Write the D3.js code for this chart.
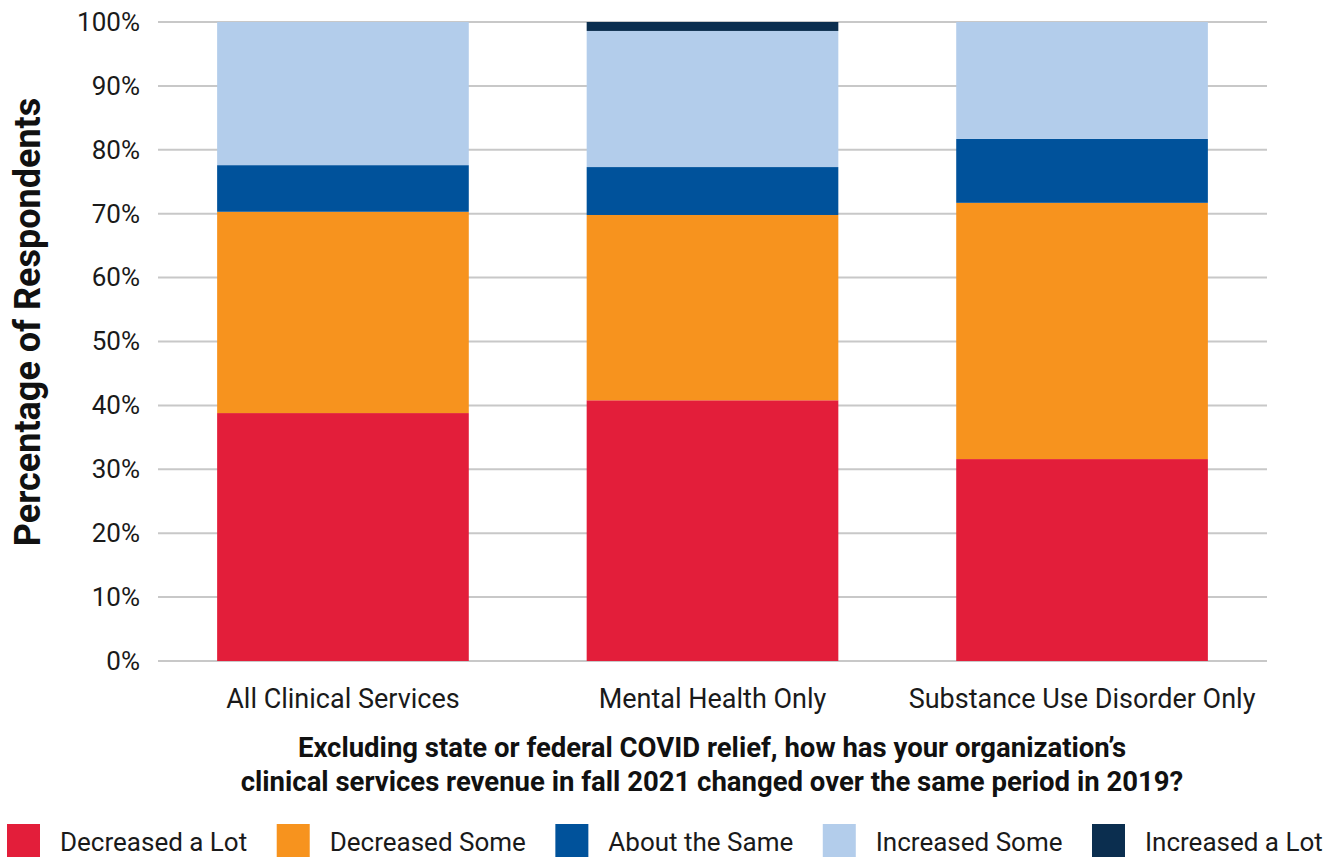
<!DOCTYPE html>
<html><head><meta charset="utf-8">
<script src="https://cdn.jsdelivr.net/npm/d3@7"></script>
<style>body{margin:0;background:#fff;} svg{display:block;} text{font-family:Roboto,"Open Sans",sans-serif;}</style>
</head><body><svg id="c" width="1338" height="859"></svg>
<script>
const categories = ["All Clinical Services","Mental Health Only","Substance Use Disorder Only"];
const seriesNames = ["Decreased a Lot","Decreased Some","About the Same","Increased Some","Increased a Lot"];
const decreasedALot = [38.8, 40.8, 31.6];
const decreasedSome = [31.5, 29.0, 40.1];
const aboutTheSame = [7.3, 7.5, 10.0];
const increasedSome = [22.4, 21.3, 18.3];
const increasedALot = [0, 1.4, 0];
const yTicks = [0,10,20,30,40,50,60,70,80,90,100];
const colors = ["#E31E3A","#F7931E","#00529B","#B3CDEB","#0B2E4F"];

(function(){
const seriesValues = [decreasedALot, decreasedSome, aboutTheSame, increasedSome, increasedALot];
const rows = categories.map((c,i)=>{const r={cat:c}; seriesNames.forEach((s,j)=>r[s]=seriesValues[j][i]); return r;});
const stack = d3.stack().keys(seriesNames)(rows);

const svg = d3.select("#c");
const mLeft=158, mRight=1267, mTop=22, mBottom=661;
const x = d3.scaleBand().domain(categories).range([mLeft,mRight]).paddingInner(0.319).paddingOuter(0.16);
const y = d3.scaleLinear().domain([0,100]).range([mBottom,mTop]);

svg.append("g").selectAll("line").data(yTicks).join("line")
  .attr("x1",mLeft).attr("x2",mRight).attr("y1",d=>y(d)).attr("y2",d=>y(d))
  .attr("stroke","#c8c8c8").attr("stroke-width",2);

const yAxis = svg.append("g").attr("transform",`translate(${mLeft},0)`)
  .call(d3.axisLeft(y).tickValues(yTicks).tickFormat(d=>d+"%").tickSize(0).tickPadding(18));
yAxis.select(".domain").remove();
yAxis.selectAll("text").attr("font-size",26).attr("fill","#1a1a1a").style("font-family","Roboto,sans-serif");

svg.append("g").selectAll("g").data(stack).join("g").attr("fill",(d,i)=>colors[i])
  .selectAll("rect").data(d=>d).join("rect")
  .attr("x",d=>x(d.data.cat)).attr("width",x.bandwidth())
  .attr("y",d=>y(d[1])).attr("height",d=>y(d[0])-y(d[1]));

const xAxis = svg.append("g").attr("transform",`translate(0,${mBottom})`)
  .call(d3.axisBottom(x).tickSize(0).tickPadding(0));
xAxis.select(".domain").remove();
xAxis.selectAll("text").attr("font-size",27).attr("fill","#1a1a1a").attr("dy",null).attr("y",47)
  .style("font-family","Roboto,sans-serif");

svg.append("text").attr("transform","translate(40,322) rotate(-90)").attr("text-anchor","middle")
  .attr("font-size",36).attr("font-weight","bold").attr("fill","#111").text("Percentage of Respondents");

const xt = svg.append("text").attr("text-anchor","middle").attr("font-size",27.5).attr("font-weight","bold").attr("fill","#111");
xt.append("tspan").attr("x",712).attr("y",757).text("Excluding state or federal COVID relief, how has your organization’s");
xt.append("tspan").attr("x",712).attr("y",791).text("clinical services revenue in fall 2021 changed over the same period in 2019?");

const lg = svg.append("g");
let cx = 7;
seriesNames.forEach((s,i)=>{
  const g = lg.append("g").attr("transform",`translate(${cx},824)`);
  g.append("rect").attr("width",33).attr("height",33).attr("fill",colors[i]);
  const t = g.append("text").attr("x",53).attr("y",27).attr("font-size",26).attr("fill","#1a1a1a").text(s);
  cx += 53 + t.node().getComputedTextLength() + 29.5;
});
})();
</script></body></html>
